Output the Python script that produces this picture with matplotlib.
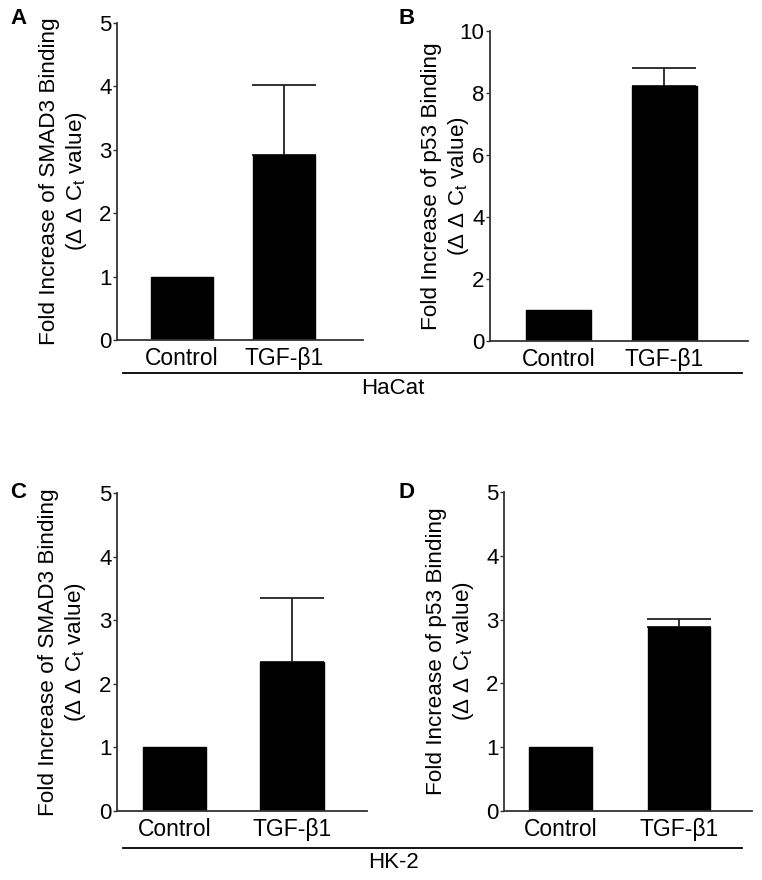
import matplotlib
matplotlib.use("Agg")
import matplotlib.pyplot as plt
from matplotlib.lines import Line2D

plt.rcParams['font.family'] = ['Liberation Sans', 'DejaVu Sans']
plt.rcParams['mathtext.fontset'] = 'custom'
plt.rcParams['mathtext.rm'] = 'Liberation Sans'
plt.rcParams['mathtext.it'] = 'Liberation Sans:italic'

categories = ["Control", "TGF-β1"]

panel_letters = ["A", "B", "C", "D"]
cell_lines = ["HaCat", "HK-2"]

smad3_hacat_mean = [1.0, 2.92]
smad3_hacat_err = [0.0, 1.10]
p53_hacat_mean = [1.0, 8.23]
p53_hacat_err = [0.0, 0.57]
smad3_hk2_mean = [1.0, 2.34]
smad3_hk2_err = [0.0, 1.01]
p53_hk2_mean = [1.0, 2.88]
p53_hk2_err = [0.0, 0.13]

ylabel_smad3 = "Fold Increase of SMAD3 Binding\n(Δ Δ C$_{\\mathrm{t}}$ value)"
ylabel_p53 = "Fold Increase of p53 Binding\n(Δ Δ C$_{\\mathrm{t}}$ value)"

W, H = 762, 880
fig = plt.figure(figsize=(W / 100, H / 100), dpi=100)

def fr(l, r, b, t):
    return [l / W, 1 - b / H, (r - l) / W, (b - t) / H]

panels = [
    dict(rect=fr(117, 363, 340, 23), mean=smad3_hacat_mean, err=smad3_hacat_err,
         ylim=5, yt=[0, 1, 2, 3, 4, 5], xlim=(-0.64, 1.78), w=0.61,
         ylabel=ylabel_smad3, letter_xy=(10, 18), lpad=7),
    dict(rect=fr(490, 748, 341, 31), mean=p53_hacat_mean, err=p53_hacat_err,
         ylim=10, yt=[0, 2, 4, 6, 8, 10], xlim=(-0.646, 1.79), w=0.61,
         ylabel=ylabel_p53, letter_xy=(398, 18), lpad=-8),
    dict(rect=fr(117, 367, 811, 493), mean=smad3_hk2_mean, err=smad3_hk2_err,
         ylim=5, yt=[0, 1, 2, 3, 4, 5], xlim=(-0.49, 1.64), w=0.54,
         ylabel=ylabel_smad3, letter_xy=(10, 493), lpad=8),
    dict(rect=fr(504, 752, 811, 492), mean=p53_hk2_mean, err=p53_hk2_err,
         ylim=5, yt=[0, 1, 2, 3, 4, 5], xlim=(-0.477, 1.616), w=0.53,
         ylabel=ylabel_p53, letter_xy=(398, 493), lpad=7),
]

for p, letter in zip(panels, panel_letters):
    ax = fig.add_axes(p["rect"])
    x = list(range(len(categories)))
    ax.bar(x, p["mean"], width=p["w"], color="black", edgecolor="black", zorder=2)
    ax.errorbar(x[1:], p["mean"][1:], yerr=[[0] * (len(x) - 1), p["err"][1:]],
                fmt="none", ecolor="#222222", elinewidth=1.3, capsize=23,
                capthick=1.3, zorder=1)
    ax.set_xlim(*p["xlim"])
    ax.set_ylim(0, p["ylim"])
    ax.set_yticks(p["yt"])
    ax.set_yticklabels([str(v) for v in p["yt"]], fontsize=16)
    ax.set_xticks(x)
    ax.set_xticklabels(categories, fontsize=16.5)
    ax.tick_params(axis="x", length=0, pad=5)
    ax.tick_params(axis="y", length=3, width=1, pad=1, color="#333333")
    for s in ["top", "right"]:
        ax.spines[s].set_visible(False)
    for s in ["left", "bottom"]:
        ax.spines[s].set_linewidth(1.3)
        ax.spines[s].set_color("#333333")
    ax.set_ylabel(p["ylabel"], fontsize=16.2, labelpad=p["lpad"], linespacing=1.22)
    lx, ly = p["letter_xy"]
    fig.text(lx / W, 1 - ly / H, letter, fontsize=16, fontweight="bold",
             ha="left", va="center")

for y_line, x0, x1, label, y_text in [(373, 123, 742, cell_lines[0], 389),
                                      (848, 123, 742, cell_lines[1], 862)]:
    fig.add_artist(Line2D([x0 / W, x1 / W], [1 - y_line / H, 1 - y_line / H],
                          color="black", linewidth=1.3, transform=fig.transFigure))
    fig.text(393 / W, 1 - y_text / H, label, fontsize=16, ha="center", va="center")

fig.savefig("out.png", dpi=100)
